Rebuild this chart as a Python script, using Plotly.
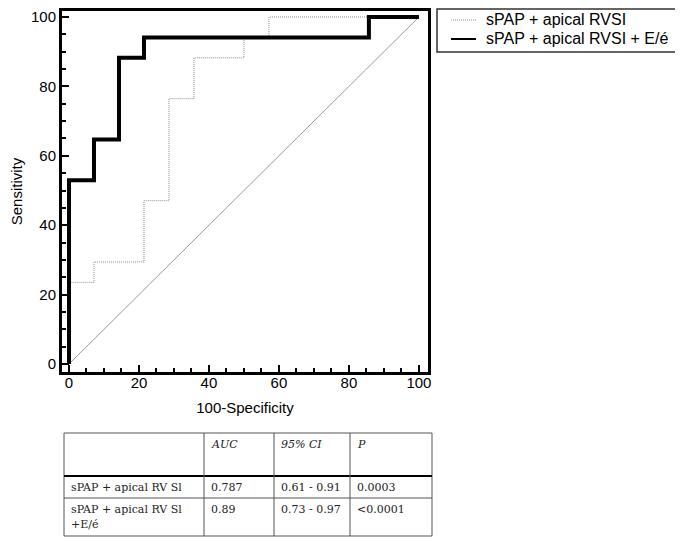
import plotly.graph_objects as go

# The page body has an 8px margin, so the figure is sized and positioned to compensate
OFF = 8
W, H = 683 - OFF, 541 - OFF

# ROC data (100-Specificity, Sensitivity)
fpr_base = [0, 0, 7.14, 7.14, 21.43, 21.43, 28.57, 28.57, 35.71, 35.71, 50.0, 50.0, 57.14, 57.14, 100]
tpr_base = [0, 23.53, 23.53, 29.41, 29.41, 47.06, 47.06, 76.47, 76.47, 88.24, 88.24, 94.12, 94.12, 100, 100]

fpr_ee = [0, 0, 7.14, 7.14, 14.29, 14.29, 21.43, 21.43, 85.71, 85.71, 100]
tpr_ee = [0, 52.94, 52.94, 64.71, 64.71, 88.24, 88.24, 94.12, 94.12, 100, 100]

diag_x = [0, 100]
diag_y = [0, 100]

series_names = ["sPAP + apical RVSI", "sPAP + apical RVSI + E/é"]

x_ticks = [0, 20, 40, 60, 80, 100]
y_ticks = [0, 20, 40, 60, 80, 100]

table_header = ["", "AUC", "95% CI", "P"]
table_rows = [
    ["sPAP + apical RV Sl", "0.787", "0.61 - 0.91", "0.0003"],
    ["sPAP + apical RV Sl<br>+E/é", "0.89", "0.73 - 0.97", "&lt;0.0001"],
]


def px(x):
    return (x - OFF) / W


def py(y):
    return min(1.0, 1 - (y - OFF) / H)


fig = go.Figure()
fig.add_trace(go.Scatter(x=diag_x, y=diag_y, mode="lines",
                         line=dict(color="#9a9a9a", width=1), showlegend=False, hoverinfo="skip"))
fig.add_trace(go.Scatter(x=fpr_base, y=tpr_base, mode="lines", name=series_names[0],
                         line=dict(color="#8a8a8a", width=1, dash="1px,1px"), showlegend=False))
fig.add_trace(go.Scatter(x=fpr_ee, y=tpr_ee, mode="lines", name=series_names[1],
                         line=dict(color="black", width=4), showlegend=False))

axis_common = dict(
    showgrid=False, zeroline=False, showline=True, linecolor="black", linewidth=3, mirror=True,
    ticks="inside", ticklen=7, tickwidth=1.5, tickcolor="black",
    minor=dict(dtick=5, ticks="inside", ticklen=4, tickwidth=1.5, tickcolor="black"),
    tickfont=dict(family="Liberation Sans, Arial", size=15, color="black"),
    automargin=False, ticklabeloverflow="allow",
)

fig.update_xaxes(range=[-2, 102.6], tickvals=x_ticks, domain=[px(62), px(428)],
                 ticklabelstandoff=-5,
                 title=dict(text="100-Specificity", font=dict(family="Liberation Sans, Arial", size=15, color="black"), standoff=13),
                 **axis_common)
fig.update_yaxes(range=[-2.3, 101.73], tickvals=y_ticks, domain=[py(372), py(11)],
                 title=dict(text="Sensitivity", font=dict(family="Liberation Sans, Arial", size=15, color="black"), standoff=18),
                 **axis_common)

shapes = []
annotations = []

# Legend (drawn manually to match the reference box)
leg_l, leg_r, leg_t, leg_b = 437, 678, 9, 52
shapes.append(dict(type="rect", xref="paper", yref="paper", x0=px(leg_l), x1=px(leg_r), y0=py(leg_t), y1=py(leg_b),
                   line=dict(color="#333333", width=1.5), fillcolor="white"))
leg_rows = [19, 38]
leg_styles = [dict(color="#8a8a8a", width=1, dash="1px,1px"), dict(color="black", width=2)]
for name, ry, st in zip(series_names, leg_rows, leg_styles):
    shapes.append(dict(type="line", xref="paper", yref="paper", x0=px(451), x1=px(476), y0=py(ry + 1), y1=py(ry + 1),
                       line=st))
    annotations.append(dict(xref="paper", yref="paper", x=px(484), y=py(ry), xanchor="left", yanchor="middle",
                            text=name, showarrow=False,
                            font=dict(family="Liberation Sans, Arial", size=16, color="black")))

# Table
tl, tr = 64, 432
rows_y = [433, 476, 498, 536]
cols_x = [64, 204, 274, 350, 432]
line_col = "#555555"
shapes.append(dict(type="rect", xref="paper", yref="paper", x0=px(tl), x1=px(tr), y0=py(rows_y[0]), y1=py(rows_y[-1]),
                   line=dict(color=line_col, width=1)))
shapes.append(dict(type="line", xref="paper", yref="paper", x0=px(tl), x1=px(tr), y0=py(rows_y[1]), y1=py(rows_y[1]),
                   line=dict(color="black", width=2)))
shapes.append(dict(type="line", xref="paper", yref="paper", x0=px(tl), x1=px(tr), y0=py(rows_y[2]), y1=py(rows_y[2]),
                   line=dict(color=line_col, width=1)))
for cx in cols_x[1:-1]:
    shapes.append(dict(type="line", xref="paper", yref="paper", x0=px(cx), x1=px(cx), y0=py(rows_y[0]), y1=py(rows_y[-1]),
                       line=dict(color=line_col, width=1)))

tfont = dict(family="DejaVu Serif, Liberation Serif", size=11, color="#222222")
line_h = 15
for j, h in enumerate(table_header):
    if h:
        annotations.append(dict(xref="paper", yref="paper", x=px(cols_x[j] + 5), y=py(rows_y[0] + 11),
                                xanchor="left", yanchor="middle", text="<i>" + h + "</i>", showarrow=False, font=tfont))
for i, row in enumerate(table_rows):
    for j, cell in enumerate(row):
        for k, part in enumerate(cell.split("<br>")):
            annotations.append(dict(xref="paper", yref="paper", x=px(cols_x[j] + 5),
                                    y=py(rows_y[i + 1] + 11 + k * line_h),
                                    xanchor="left", yanchor="middle", text=part, showarrow=False, font=tfont))

fig.update_layout(
    width=W, height=H, margin=dict(l=0, r=0, t=0, b=0),
    plot_bgcolor="white", paper_bgcolor="white",
    shapes=shapes, annotations=annotations, showlegend=False,
)

fig.write_html("out.html")
